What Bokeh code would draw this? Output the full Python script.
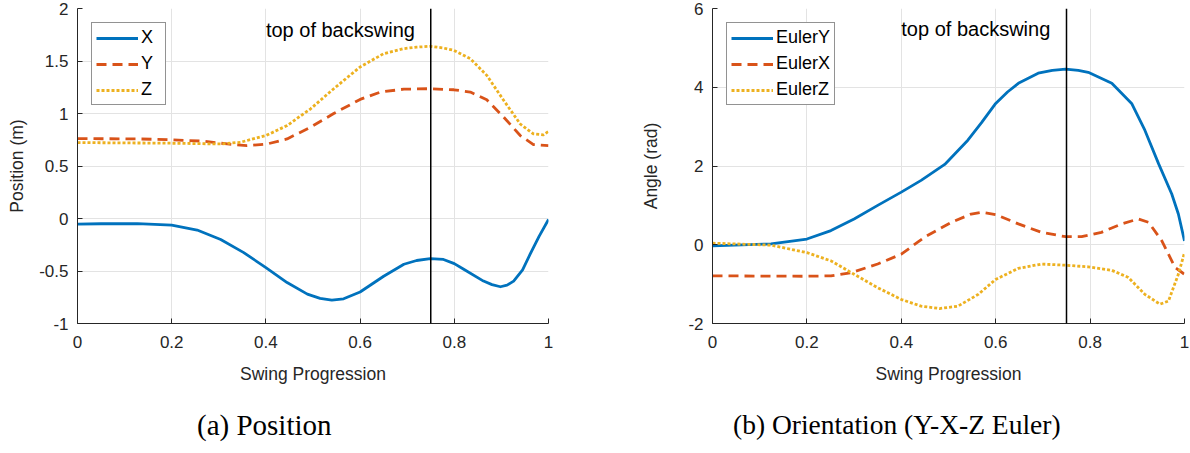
from bokeh.plotting import figure
from bokeh.layouts import row, column
from bokeh.models import Range1d, FixedTicker, Span, Label, Div
from bokeh.embed import file_html
from bokeh.resources import INLINE

# ---------------- data ----------------
# (a) Position
POS_X_T = [0, 0.05, 0.127, 0.2, 0.254, 0.304, 0.353, 0.4, 0.445, 0.488, 0.515, 0.54, 0.565, 0.6, 0.65, 0.693, 0.72, 0.749, 0.777, 0.8, 0.82, 0.862, 0.88, 0.898, 0.912, 0.926, 0.945, 0.961, 0.98, 1.0]
POS_X_V = [-0.054, -0.05, -0.048, -0.064, -0.11, -0.2, -0.325, -0.468, -0.61, -0.72, -0.76, -0.777, -0.765, -0.70, -0.55, -0.436, -0.40, -0.382, -0.39, -0.43, -0.484, -0.596, -0.63, -0.65, -0.635, -0.596, -0.49, -0.34, -0.17, -0.01]

POS_Y_T = [0, 0.127, 0.2, 0.269, 0.318, 0.36, 0.403, 0.445, 0.495, 0.544, 0.6, 0.643, 0.693, 0.749, 0.799, 0.834, 0.869, 0.905, 0.94, 0.968, 1.0]
POS_Y_V = [0.761, 0.758, 0.75, 0.736, 0.71, 0.694, 0.71, 0.758, 0.87, 1.0, 1.134, 1.204, 1.232, 1.236, 1.226, 1.204, 1.13, 0.965, 0.79, 0.704, 0.694]

POS_Z_T = [0, 0.198, 0.304, 0.346, 0.4, 0.445, 0.495, 0.544, 0.6, 0.65, 0.693, 0.72, 0.749, 0.775, 0.799, 0.834, 0.869, 0.905, 0.94, 0.968, 0.989, 1.0]
POS_Z_V = [0.723, 0.717, 0.71, 0.726, 0.79, 0.885, 1.045, 1.236, 1.443, 1.57, 1.618, 1.632, 1.64, 1.625, 1.602, 1.522, 1.363, 1.124, 0.9, 0.806, 0.796, 0.83]

# (b) Orientation
EUL_Y_T = [0, 0.124, 0.2, 0.251, 0.3, 0.35, 0.4, 0.442, 0.492, 0.541, 0.57, 0.6, 0.625, 0.648, 0.69, 0.72, 0.748, 0.775, 0.796, 0.846, 0.888, 0.916, 0.945, 0.973, 0.987, 1.0]
EUL_Y_V = [-0.03, 0.02, 0.145, 0.36, 0.655, 1.0, 1.336, 1.634, 2.04, 2.655, 3.1, 3.59, 3.88, 4.1, 4.357, 4.43, 4.46, 4.43, 4.38, 4.1, 3.59, 2.91, 2.06, 1.29, 0.78, 0.1]

EUL_X_T = [0, 0.2, 0.251, 0.294, 0.35, 0.4, 0.449, 0.506, 0.548, 0.57, 0.6, 0.648, 0.697, 0.748, 0.782, 0.824, 0.867, 0.902, 0.924, 0.952, 0.98, 1.0]
EUL_X_V = [-0.79, -0.8, -0.79, -0.71, -0.49, -0.24, 0.19, 0.57, 0.78, 0.826, 0.766, 0.53, 0.315, 0.204, 0.204, 0.315, 0.53, 0.655, 0.57, 0.1, -0.58, -0.75]

EUL_Z_T = [0, 0.124, 0.2, 0.251, 0.3, 0.35, 0.4, 0.442, 0.481, 0.52, 0.563, 0.6, 0.648, 0.697, 0.748, 0.796, 0.846, 0.881, 0.916, 0.948, 0.966, 0.987, 1.0]
EUL_Z_V = [0.04, -0.01, -0.2, -0.41, -0.75, -1.09, -1.39, -1.56, -1.62, -1.56, -1.26, -0.88, -0.6, -0.49, -0.52, -0.56, -0.65, -0.83, -1.26, -1.51, -1.43, -0.75, -0.2]

BACKSWING_T = 0.75
ANNOT_TEXT = "top of backswing"
ANNOT_POS = (0.40, 1.80)
ANNOT_ORI = (0.40, 5.48)

X_TICKS = [0, 0.2, 0.4, 0.6, 0.8, 1.0]
X_TICK_LABELS = ["0", "0.2", "0.4", "0.6", "0.8", "1"]
POS_Y_TICKS = [-1, -0.5, 0, 0.5, 1, 1.5, 2]
POS_Y_TICK_LABELS = ["-1", "-0.5", "0", "0.5", "1", "1.5", "2"]
ORI_Y_TICKS = [-2, 0, 2, 4, 6]
ORI_Y_TICK_LABELS = ["-2", "0", "2", "4", "6"]

POS_LABELS = ["X", "Y", "Z"]
ORI_LABELS = ["EulerY", "EulerX", "EulerZ"]
CAPTIONS = ["(a) Position", "(b) Orientation (Y-X-Z Euler)"]

# ---------------- style ----------------
BLUE = "#0072BD"
RED = "#D95319"
YELLOW = "#EDB120"
AX = "#262626"
GRID = "#e3e3e3"
SANS = "Liberation Sans"
SERIF = "Liberation Serif"


def panel(ts, vs, labels, yr, yticks, ytlabels, ylabel, annot,
          b_left, b_right, frame_w, ylab_standoff):
    p = figure(frame_width=frame_w, frame_height=315, output_backend="svg",
               toolbar_location=None, title=None,
               x_range=Range1d(0, 1), y_range=Range1d(*yr),
               min_border_left=b_left, min_border_right=b_right,
               min_border_top=8, min_border_bottom=70)
    p.outline_line_color = None
    p.background_fill_color = "white"
    p.border_fill_color = "white"

    p.xaxis.ticker = FixedTicker(ticks=X_TICKS)
    p.xaxis.major_label_overrides = dict(zip(X_TICKS, X_TICK_LABELS))
    p.yaxis.ticker = FixedTicker(ticks=yticks)
    p.yaxis.major_label_overrides = dict(zip(yticks, ytlabels))
    p.xgrid.ticker = FixedTicker(ticks=X_TICKS)
    p.ygrid.ticker = FixedTicker(ticks=yticks)
    for g in (p.xgrid, p.ygrid):
        g.grid_line_color = GRID
        g.grid_line_width = 1

    for ax in (p.xaxis, p.yaxis):
        ax.axis_line_color = AX
        ax.axis_line_width = 1
        ax.major_tick_in = 5
        ax.major_tick_out = 0
        ax.major_tick_line_color = AX
        ax.minor_tick_line_color = None
        ax.major_label_text_font = SANS
        ax.major_label_text_font_size = "17px"
        ax.major_label_text_color = AX
        ax.axis_label_text_font = SANS
        ax.axis_label_text_font_size = "17.5px"
        ax.axis_label_text_font_style = "normal"
        ax.axis_label_text_color = AX
    p.xaxis.axis_label = "Swing Progression"
    p.xaxis.major_label_standoff = 12
    p.xaxis.axis_label_standoff = 13
    p.yaxis.axis_label = ylabel
    p.yaxis.major_label_standoff = 9
    p.yaxis.axis_label_standoff = ylab_standoff

    colors = [BLUE, RED, YELLOW]
    dashes = ["solid", "10 6", "3 2"]
    for t, v, lab, c, d in zip(ts, vs, labels, colors, dashes):
        p.line(t, v, line_color=c, line_width=2.8, line_dash=d,
               line_join="round", legend_label=lab)

    p.add_layout(Span(location=BACKSWING_T, dimension="height",
                      line_color="black", line_width=1.5))
    p.add_layout(Label(x=annot[0], y=annot[1], text=ANNOT_TEXT,
                       text_font=SANS, text_font_size="20px",
                       text_color="black", text_baseline="alphabetic",
                       text_align="left"))

    lg = p.legend[0]
    lg.location = "top_left"
    lg.margin = 14
    lg.padding = 4
    lg.spacing = 5
    lg.glyph_width = 42
    lg.glyph_height = 20
    lg.label_height = 20
    lg.label_standoff = 3
    lg.label_text_font = SANS
    lg.label_text_font_size = "18px"
    lg.label_text_color = "black"
    lg.border_line_color = AX
    lg.border_line_width = 1
    lg.background_fill_color = "white"
    lg.background_fill_alpha = 1
    return p


def caption(text, left, width, size):
    return Div(text=text, width=width, height=34, margin=(16, 0, 0, left),
               styles={"font-family": SERIF, "font-size": size,
                       "color": "black", "line-height": "32px",
                       "white-space": "nowrap"})


p1 = panel([POS_X_T, POS_Y_T, POS_Z_T], [POS_X_V, POS_Y_V, POS_Z_V], POS_LABELS,
           (-1, 2), POS_Y_TICKS, POS_Y_TICK_LABELS, "Position (m)", ANNOT_POS,
           77, 40, 471, 9)
p2 = panel([EUL_Y_T, EUL_X_T, EUL_Z_T], [EUL_Y_V, EUL_X_V, EUL_Z_V], ORI_LABELS,
           (-2, 6), ORI_Y_TICKS, ORI_Y_TICK_LABELS, "Angle (rad)", ANNOT_ORI,
           124, 5, 472, 24)

layout = row(column(p1, caption(CAPTIONS[0], 197, 360, "29px")),
             column(p2, caption(CAPTIONS[1], 145, 440, "27.5px")))
open("out.html", "w").write(file_html(layout, INLINE))
